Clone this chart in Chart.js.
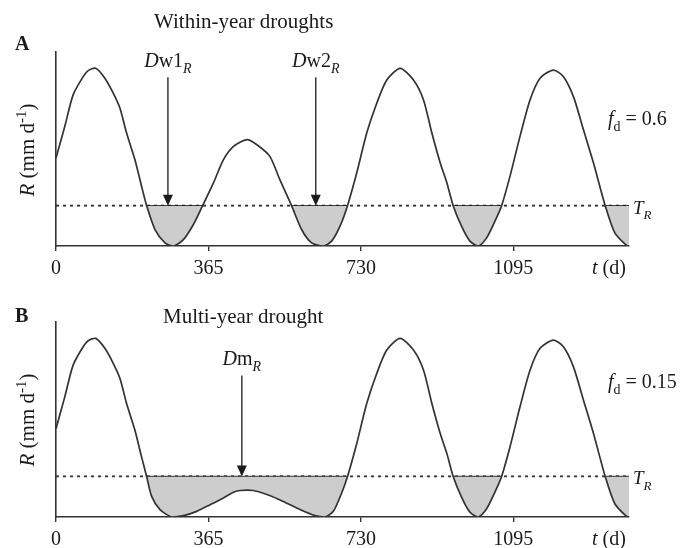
<!DOCTYPE html>
<html>
<head>
<meta charset="utf-8">
<script src="https://cdn.jsdelivr.net/npm/chart.js@4.4.0/dist/chart.umd.min.js"></script>
<style>
  html, body { margin: 0; padding: 0; background: #fff; }
  #wrap { position: relative; width: 687px; height: 548px; overflow: hidden; }
  .panel { position: absolute; left: 0; width: 687px; }
  #pa { top: 0; height: 290px; }
  #pb { top: 274px; height: 274px; }
</style>
</head>
<body>
<div id="wrap">
  <div class="panel" id="pa"><canvas id="chartA"></canvas></div>
  <div class="panel" id="pb"><canvas id="chartB"></canvas></div>
</div>
<script>
'use strict';

// time axis (days) and rainfall R (mm/d)
const tickDays = [0, 365, 730, 1095];
const dayMax = 1372;
const threshold = 2.08;

// panel A: two within-year droughts
const daysA = [0, 21, 41, 65, 77, 95, 117, 137, 153, 169, 189, 205, 217, 237, 261, 281, 305, 329, 351,
  377, 401, 425, 457, 481, 512, 536, 564, 588, 612, 640, 660, 680, 698, 720, 744, 768, 792, 824, 856,
  880, 900, 920, 936, 951, 971, 991, 1011, 1031, 1051, 1067, 1087, 1111, 1135, 1159, 1191, 1215, 1239,
  1263, 1287, 1315, 1338, 1366, 1372];
const rainA = [4.53, 6.16, 7.79, 8.73, 9.04, 9.16, 8.65, 7.88, 7.11, 5.82, 4.45, 3.07, 2.08, 0.85, 0.16, 0.0, 0.33, 1.11, 2.08,
  3.25, 4.45, 5.13, 5.48, 5.22, 4.62, 3.42, 2.08, 0.85, 0.16, 0.0, 0.25, 1.02, 2.08, 3.76, 5.82, 7.36, 8.56, 9.16, 8.56,
  7.53, 5.82, 4.28, 3.25, 2.08, 1.02, 0.25, 0.0, 0.42, 1.28, 2.08, 3.59, 5.65, 7.53, 8.65, 9.07, 8.73, 7.70,
  5.99, 4.28, 2.08, 0.68, 0.03, 0.0];

// panel B: one multi-year drought
const daysB = [0, 21, 41, 65, 77, 95, 117, 137, 153, 169, 189, 205, 217, 229, 249, 277, 305, 337, 369,
  401, 425, 441, 472, 505, 544, 584, 620, 644, 664, 684, 698, 720, 744, 768, 792, 824, 856,
  880, 900, 920, 936, 951, 971, 991, 1011, 1031, 1051, 1067, 1087, 1111, 1135, 1159, 1191, 1215, 1239,
  1263, 1287, 1315, 1338, 1366, 1372];
const rainB = [4.53, 6.16, 7.79, 8.73, 9.04, 9.16, 8.65, 7.88, 7.11, 5.82, 4.45, 3.07, 2.08, 1.06, 0.38, 0.0, 0.07, 0.29, 0.63,
  0.98, 1.27, 1.36, 1.36, 1.15, 0.80, 0.38, 0.07, 0.0, 0.29, 1.23, 2.08, 3.76, 5.82, 7.36, 8.56, 9.16, 8.56,
  7.53, 5.82, 4.28, 3.25, 2.08, 1.02, 0.25, 0.0, 0.42, 1.28, 2.08, 3.59, 5.65, 7.53, 8.65, 9.07, 8.73, 7.70,
  5.99, 4.28, 2.08, 0.68, 0.03, 0.0];

// arrows pointing at each drought (day, top of arrow in R units)
const arrowDaysA = [268, 622];
const arrowDaysB = [445];
const arrowTopA = 8.7;
const arrowTopB = 7.26;

const SERIF = '"Liberation Serif", "Times New Roman", serif';
const INK = '#1a1a1a';

// draws text made of runs: italic (i), bold (b), subscript (sub), superscript (sup)
function drawRich(ctx, parts, x, y, size, align, rotate) {
  const fontOf = p => {
    const s = (p.sub || p.sup) ? Math.round(size * 0.7) : size;
    return (p.i ? 'italic ' : '') + (p.b ? 'bold ' : '') + s + 'px ' + SERIF;
  };
  let total = 0;
  parts.forEach(p => { ctx.font = fontOf(p); total += ctx.measureText(p.t).width; });
  ctx.save();
  ctx.translate(x, y);
  if (rotate) ctx.rotate(-Math.PI / 2);
  let cx = align === 'center' ? -total / 2 : (align === 'right' ? -total : 0);
  ctx.fillStyle = INK;
  ctx.textBaseline = 'alphabetic';
  ctx.textAlign = 'left';
  parts.forEach(p => {
    ctx.font = fontOf(p);
    const dy = p.sub ? size * 0.3 : (p.sup ? -size * 0.4 : 0);
    ctx.fillText(p.t, cx, dy);
    cx += ctx.measureText(p.t).width;
  });
  ctx.restore();
}

const annotate = {
  id: 'annotate',
  afterDraw(chart, args, o) {
    const { ctx, chartArea: ca, scales: { x, y } } = chart;
    const tip = y.getPixelForValue(threshold);
    const top = y.getPixelForValue(o.arrowTop);
    ctx.save();
    o.arrows.forEach((d, k) => {
      const px = x.getPixelForValue(d);
      ctx.strokeStyle = INK;
      ctx.lineWidth = 1.3;
      ctx.beginPath();
      ctx.moveTo(px, top);
      ctx.lineTo(px, tip - 8);
      ctx.stroke();
      ctx.fillStyle = INK;
      ctx.beginPath();
      ctx.moveTo(px, tip);
      ctx.lineTo(px - 5, tip - 11);
      ctx.lineTo(px + 5, tip - 11);
      ctx.closePath();
      ctx.fill();
      drawRich(ctx, o.arrowLabels[k], px, top - 10, 20, 'center');
    });
    drawRich(ctx, [{ t: o.panel, b: true }], 15, o.panelY, 20, 'left');
    drawRich(ctx, [{ t: o.title }], o.titleX, o.titleY, 21, 'left');
    drawRich(ctx, o.fd, 608, o.fdY, 20, 'left');
    drawRich(ctx, [{ t: 'T', i: true }, { t: 'R', i: true, sub: true }], 633, tip + 8, 19, 'left');
    drawRich(ctx, [{ t: 't', i: true }, { t: ' (d)' }], 592, ca.bottom + 28, 20, 'left');
    drawRich(ctx, [{ t: 'R', i: true }, { t: ' (mm d' }, { t: '-1', sup: true }, { t: ')' }],
      34, ca.top + 98, 21, 'center', true);
    ctx.restore();
  }
};

function makeChart(id, days, rain, pad, opts) {
  const curve = days.map((d, i) => ({ x: d, y: rain[i] }));
  // solid edge of the shaded deficit along the threshold
  const edge = days.map((d, i) => ({ x: d, y: rain[i] <= threshold ? threshold : null }));
  const last = rain[rain.length - 1];
  return new Chart(document.getElementById(id), {
    type: 'line',
    data: {
      datasets: [
        {
          data: curve,
          borderColor: '#333',
          borderWidth: 1.7,
          pointRadius: 0,
          tension: 0.25,
          fill: { target: { value: threshold }, above: 'rgba(0,0,0,0)', below: '#cdcdcd' }
        },
        {
          data: [{ x: 0, y: threshold }, { x: dayMax, y: threshold }],
          borderColor: '#111',
          borderWidth: 1.8,
          borderDash: [3, 4],
          pointRadius: 0,
          fill: false
        },
        {
          data: edge,
          borderColor: '#333',
          borderWidth: 1.5,
          pointRadius: 0,
          spanGaps: false,
          fill: false
        },
        {
          data: [{ x: dayMax, y: threshold }, { x: dayMax, y: last }],
          borderColor: '#333',
          borderWidth: 1.5,
          pointRadius: 0,
          fill: false
        }
      ]
    },
    options: {
      responsive: true,
      maintainAspectRatio: false,
      animation: false,
      events: [],
      layout: { padding: pad },
      plugins: {
        legend: { display: false },
        tooltip: { enabled: false },
        annotate: opts
      },
      scales: {
        x: {
          type: 'linear',
          min: 0,
          max: dayMax,
          afterBuildTicks: s => { s.ticks = tickDays.map(v => ({ value: v })); },
          afterFit: s => { s.height = 28; },
          grid: { drawOnChartArea: false, tickLength: 5, color: '#333', lineWidth: 1.4 },
          border: { color: '#333', width: 1.6 },
          ticks: {
            autoSkip: false,
            maxRotation: 0,
            padding: 6,
            color: INK,
            font: { family: SERIF, size: 20 },
            callback: v => String(v)
          }
        },
        y: {
          min: 0,
          max: 10,
          afterFit: s => { s.width = 0; },
          grid: { display: true, drawOnChartArea: false, drawTicks: false },
          border: { color: '#333', width: 1.6 },
          ticks: { display: false }
        }
      }
    },
    plugins: [annotate]
  });
}

makeChart('chartA', daysA, rainA, { top: 52, left: 56, right: 58, bottom: 16 }, {
  arrows: arrowDaysA,
  arrowTop: arrowTopA,
  arrowLabels: [
    [{ t: 'D', i: true }, { t: 'w1' }, { t: 'R', i: true, sub: true }],
    [{ t: 'D', i: true }, { t: 'w2' }, { t: 'R', i: true, sub: true }]
  ],
  panel: 'A', panelY: 50,
  title: 'Within-year droughts', titleX: 154, titleY: 28,
  fd: [{ t: 'f', i: true }, { t: 'd', sub: true }, { t: ' = 0.6' }], fdY: 125
});

makeChart('chartB', daysB, rainB, { top: 48, left: 56, right: 58, bottom: 3 }, {
  arrows: arrowDaysB,
  arrowTop: arrowTopB,
  arrowLabels: [
    [{ t: 'D', i: true }, { t: 'm' }, { t: 'R', i: true, sub: true }]
  ],
  panel: 'B', panelY: 48,
  title: 'Multi-year drought', titleX: 163, titleY: 49,
  fd: [{ t: 'f', i: true }, { t: 'd', sub: true }, { t: ' = 0.15' }], fdY: 114
});
</script>
</body>
</html>
